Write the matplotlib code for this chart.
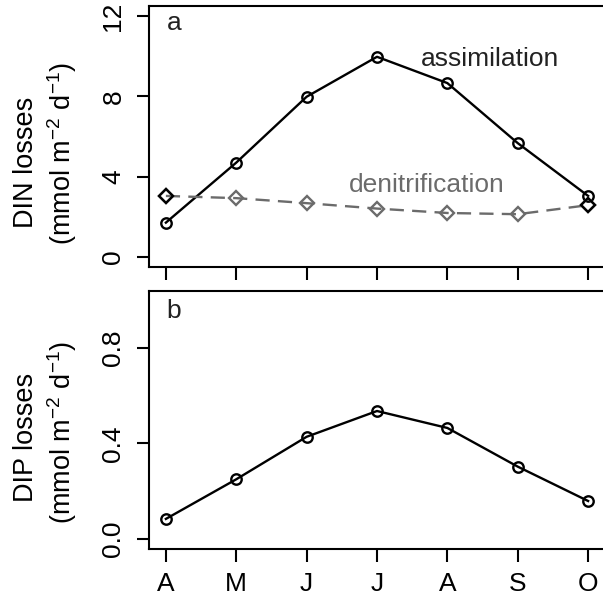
import numpy as np
import matplotlib
matplotlib.use("Agg")
import matplotlib.pyplot as plt

plt.rcParams['font.family'] = ['Liberation Sans', 'DejaVu Sans']
plt.rcParams['mathtext.fontset'] = 'custom'
plt.rcParams['mathtext.rm'] = 'Liberation Sans'
plt.rcParams['mathtext.it'] = 'Liberation Sans'

# monthly values, April to October
months = ['A', 'M', 'J', 'J', 'A', 'S', 'O']
assimilation = [1.71, 4.70, 7.98, 9.97, 8.66, 5.67, 3.04]
denitrification = [3.04, 2.93, 2.68, 2.41, 2.19, 2.13, 2.58]
dip = [0.084, 0.25, 0.428, 0.536, 0.465, 0.303, 0.159]

x = np.arange(1, len(months) + 1)
grey = '#6b6b6b'
fs = 19

fig = plt.figure(figsize=(6.03, 6.07), dpi=100)
W, H = 603, 607

def add_panel(top_px, bot_px):
    ax = fig.add_axes([149 / W, 1 - bot_px / H, (605 - 149) / W, (bot_px - top_px) / H])
    ax.set_xlim(0.76, 7.24)
    for s in ax.spines.values():
        s.set_linewidth(1.5)
    ax.tick_params(length=9, width=1.5, labelsize=fs)
    ax.tick_params(axis='y', pad=8)
    ax.set_xticks(x)
    return ax

# panel a
ax1 = add_panel(6.4, 266.6)
ax1.set_ylim(-0.48, 12.48)
ax1.plot(x, assimilation, '-o', color='black', lw=1.7, ms=7.5, mfc='none', mew=1.7)
ax1.plot(x, denitrification, '--D', color=grey, lw=1.7, ms=7, mfc='none', mew=1.7,
         dashes=(6, 3.5))
ends = [0, len(x) - 1]
ax1.plot(x[ends], np.array(denitrification)[ends], 'D', color='black', ms=7, mfc='none', mew=1.7)
ax1.set_yticks([0, 4, 8, 12])
ax1.set_yticklabels(['0', '4', '8', '12'], rotation=90, va='center')
ax1.set_xticklabels([])
ax1.text(0.055, 0.935, 'a', transform=ax1.transAxes, fontsize=fs, ha='center', va='center', color='#222222')
ax1.text(5.6, 9.85, 'assimilation', fontsize=fs, ha='center', va='center', color='#222222')
ax1.text(4.7, 3.6, 'denitrification', fontsize=fs, ha='center', va='center', color=grey)

# panel b
ax2 = add_panel(290.7, 548.5)
ax2.set_ylim(-0.04, 1.04)
ax2.plot(x, dip, '-o', color='black', lw=1.7, ms=7.5, mfc='none', mew=1.7)
ax2.set_yticks([0.0, 0.4, 0.8])
ax2.set_yticklabels(['0.0', '0.4', '0.8'], rotation=90, va='center')
ax2.set_xticklabels(months)
ax2.tick_params(axis='x', pad=8)
ax2.text(0.055, 0.92, 'b', transform=ax2.transAxes, fontsize=fs, ha='center', va='center', color='#222222')

# y labels, two lines each
fl = 19.5
unit = r'(mmol m$^{-2}$ d$^{-1}$)'
fig.text(26 / W, 1 - 162 / H, 'DIN losses', rotation=90, fontsize=fl, ha='center', va='center')
fig.text(62 / W, 1 - 154 / H, unit, rotation=90, fontsize=fl, ha='center', va='center')
fig.text(26 / W, 1 - 437 / H, 'DIP losses', rotation=90, fontsize=fl, ha='center', va='center')
fig.text(62 / W, 1 - 433 / H, unit, rotation=90, fontsize=fl, ha='center', va='center')

fig.savefig('out.png', dpi=100)
